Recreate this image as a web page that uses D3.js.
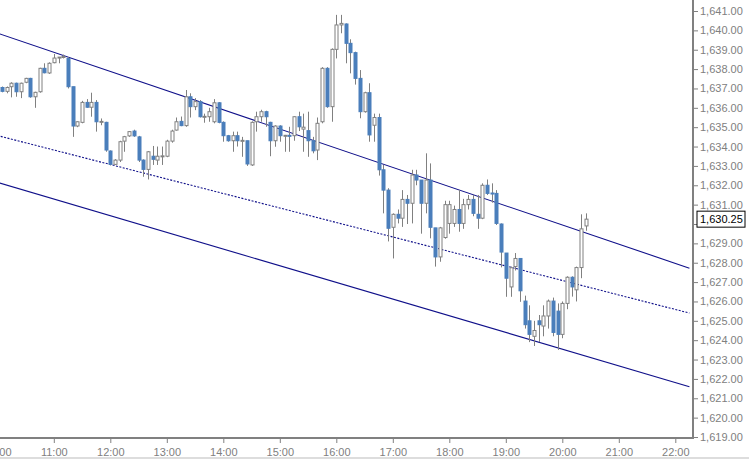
<!DOCTYPE html>
<html><head><meta charset="utf-8">
<script src="https://cdn.jsdelivr.net/npm/d3@7"></script>
<style>body{margin:0;background:#fff}svg{display:block}</style>
</head><body>
<svg id="c" width="749" height="459"></svg>
<script>
const startTime = "2013-01-01T10:05";
const opens = [1637.05,1636.85,1637.09,1637.27,1636.83,1637.32,1637.52,1636.57,1636.83,1638.04,1637.8,1638.33,1638.6,1638.65,1638.55,1637.09,1635.06,1635.25,1636.28,1636.03,1636.28,1635.28,1635.25,1633.77,1633.08,1633.3,1634.28,1634.55,1634.8,1634.5,1633.3,1632.82,1633.5,1633.3,1633.5,1633.5,1634.28,1634.85,1635.3,1635.08,1636.57,1636.06,1636.32,1635.54,1635.54,1635.28,1636.26,1635.25,1634.56,1634.3,1634.56,1634.3,1634.3,1633.05,1635.28,1635.54,1635.8,1635.25,1634.3,1635.06,1634.56,1634.58,1634.56,1635.54,1634.9,1634.82,1634.3,1633.82,1635.28,1638.04,1636.06,1639.02,1640.28,1640.33,1639.33,1638.85,1637.52,1635.8,1636.78,1635.1,1635.5,1632.8,1631.75,1629.83,1630.5,1630.3,1631.27,1631.07,1632.53,1632.27,1631.07,1632.27,1629.8,1628.3,1629.3,1630.03,1630.03,1630.75,1630.03,1631.0,1631.27,1630.5,1630.3,1632.0,1631.6,1631.58,1630.0,1628.5,1626.75,1627.8,1628.22,1626.02,1625.0,1624.2,1625.0,1624.73,1625.25,1626.02,1625.5,1624.3,1625.9,1627.25,1626.6,1627.75,1629.9];
const highs = [1637.1,1637.1,1637.32,1637.3,1637.3,1637.55,1637.55,1636.83,1638.07,1638.3,1638.35,1638.78,1638.62,1638.75,1638.62,1637.09,1635.3,1636.36,1636.45,1636.78,1636.4,1635.45,1635.28,1633.8,1633.35,1634.3,1634.55,1634.8,1634.87,1634.55,1633.34,1633.77,1634.03,1634.0,1634.0,1634.35,1634.87,1635.5,1635.55,1636.92,1636.75,1636.5,1636.4,1635.7,1636.0,1636.45,1636.3,1635.3,1634.6,1634.77,1634.77,1634.5,1634.3,1635.3,1635.8,1635.9,1635.85,1635.28,1635.1,1635.1,1634.6,1635.02,1635.56,1635.8,1635.7,1635.8,1634.5,1635.5,1638.1,1638.1,1639.07,1640.8,1640.8,1640.36,1639.54,1638.9,1637.95,1636.83,1637.27,1635.7,1635.7,1633.05,1631.85,1630.55,1630.75,1631.75,1631.5,1632.8,1632.8,1632.27,1633.65,1633.13,1629.8,1629.85,1631.2,1631.2,1630.95,1631.75,1631.3,1631.5,1631.5,1631.5,1632.1,1632.3,1632.1,1631.75,1630.03,1628.5,1627.8,1628.5,1628.22,1626.3,1625.8,1625.0,1625.3,1625.8,1626.1,1626.2,1625.9,1626.0,1627.3,1627.3,1627.8,1630.5,1630.55];
const lows = [1636.8,1636.75,1636.54,1636.57,1636.5,1637.27,1636.52,1636.0,1636.78,1637.78,1637.75,1638.3,1638.3,1638.55,1637.0,1634.5,1635.0,1635.2,1636.0,1635.54,1634.77,1635.1,1633.73,1633.03,1633.05,1633.2,1633.73,1634.5,1634.5,1633.2,1632.44,1632.3,1633.05,1633.05,1633.05,1633.45,1634.2,1634.82,1635.05,1635.02,1635.5,1635.88,1635.5,1635.23,1635.28,1635.2,1635.2,1634.25,1634.25,1633.73,1634.0,1633.47,1633.0,1633.0,1634.77,1635.28,1635.02,1633.5,1633.99,1634.25,1633.73,1633.73,1634.3,1634.8,1633.73,1633.47,1633.65,1633.3,1635.2,1636.0,1635.28,1638.55,1639.85,1638.3,1637.78,1637.2,1635.46,1635.75,1634.25,1634.25,1632.5,1630.55,1629.1,1628.22,1630.03,1629.85,1630.0,1630.03,1632.0,1629.5,1630.55,1629.26,1627.8,1628.05,1629.24,1629.5,1629.85,1629.6,1629.75,1630.75,1630.4,1629.75,1630.25,1631.5,1631.1,1629.95,1627.76,1626.24,1626.24,1627.6,1625.98,1624.6,1623.9,1623.7,1623.9,1624.2,1624.6,1624.2,1623.5,1624.1,1625.6,1626.25,1626.0,1627.2,1629.65];
const closes = [1636.85,1637.05,1637.27,1636.83,1637.27,1637.52,1636.57,1636.8,1638.04,1637.81,1638.3,1638.57,1638.62,1638.65,1637.09,1635.06,1635.28,1636.28,1636.03,1636.28,1635.28,1635.3,1633.82,1633.08,1633.3,1634.25,1634.51,1634.77,1634.55,1633.3,1632.82,1633.73,1633.34,1633.5,1633.52,1634.28,1634.8,1635.28,1635.08,1636.57,1636.06,1636.32,1635.54,1635.56,1635.8,1636.26,1635.25,1634.56,1634.3,1634.56,1634.3,1634.32,1633.1,1635.25,1635.54,1635.8,1635.54,1634.3,1635.06,1634.56,1634.58,1634.56,1635.54,1635.02,1635.0,1634.3,1633.78,1635.2,1638.04,1636.06,1639.02,1640.28,1640.36,1639.33,1638.85,1637.52,1635.8,1636.78,1634.6,1635.5,1632.8,1631.75,1629.78,1630.5,1630.3,1631.27,1631.07,1632.53,1632.27,1631.07,1632.27,1629.83,1628.3,1629.8,1631.0,1631.0,1630.75,1630.03,1631.0,1631.27,1630.55,1630.3,1632.0,1631.58,1631.58,1630.03,1628.55,1627.2,1627.74,1628.22,1626.55,1624.8,1624.3,1624.5,1624.8,1625.25,1626.02,1624.4,1624.3,1625.9,1627.25,1626.75,1627.75,1629.75,1630.25];
const channelTimes = ["2013-01-01T10:00","2013-01-01T22:15"];
const channelUpper = [1639.86,1627.72];
const channelMid = [1634.57,1625.4];
const channelLower = [1632.15,1621.6];
const yTicks = d3.range(1619,1642);
const xTickLabels = ["10:00","11:00","12:00","13:00","14:00","15:00","16:00","17:00","18:00","19:00","20:00","21:00","22:00"];
const lastPrice = 1630.25;

const svg = d3.select("#c");
const W=692, H=437;
const t0 = new Date("2013-01-01T10:00"), t1=new Date("2013-01-01T22:00");
const x = d3.scaleTime().domain([t0,t1]).range([-2.7, 675.3]);
const y = d3.scaleLinear().domain([1619,1641]).range([437,11]);
const parse = s=>new Date(s);
const st = parse(startTime);
const bars = opens.map((o,i)=>({t:d3.timeMinute.offset(st,5*i),o,h:highs[i],l:lows[i],c:closes[i]}));

svg.append("defs").append("clipPath").attr("id","pc").append("rect").attr("x",0).attr("y",0).attr("width",W).attr("height",H);
const plot = svg.append("g").attr("clip-path","url(#pc)");

const line = d3.line().x(d=>x(d[0])).y(d=>y(d[1]));
[[channelUpper,null],[channelMid,"2,1.5"],[channelLower,null]].forEach(([vals,dash])=>{
  plot.append("path").datum(channelTimes.map((t,i)=>[parse(t),vals[i]]))
    .attr("d",line).attr("fill","none").attr("stroke","#10108a").attr("stroke-width",1.1)
    .attr("stroke-dasharray",dash);
});

const g = plot.selectAll("g.b").data(bars).join("g");
g.append("line").attr("x1",d=>Math.round(x(d.t))+0.5).attr("x2",d=>Math.round(x(d.t))+0.5)
  .attr("y1",d=>y(d.h)).attr("y2",d=>y(d.l)).attr("stroke","#808080").attr("stroke-width",1);
g.append("rect").attr("x",d=>Math.round(x(d.t))-1).attr("width",3)
  .attr("y",d=>y(Math.max(d.o,d.c))).attr("height",d=>Math.max(1,Math.abs(y(d.o)-y(d.c))))
  .attr("fill",d=>d.c<d.o?"#4a7ebb":"#fff").attr("stroke",d=>d.c<d.o?"#4a7ebb":"#808080").attr("stroke-width",1);

const axC="#808080";
svg.append("line").attr("x1",693).attr("x2",693).attr("y1",0).attr("y2",439).attr("stroke",axC).attr("stroke-width",2);
svg.append("line").attr("x1",0).attr("x2",694).attr("y1",438).attr("y2",438).attr("stroke",axC).attr("stroke-width",2);
const ya = svg.append("g").attr("transform","translate(694,0)")
  .call(d3.axisRight(y).tickValues(yTicks).tickSize(4).tickFormat(d=>d===1630?"":d3.format(",.2f")(d)));
ya.select(".domain").remove();
ya.selectAll("line").attr("stroke",axC);
ya.selectAll("text").attr("fill","#808080").attr("font-family","Liberation Sans, Arial").attr("font-size",11).attr("x",6);
const xa = svg.append("g").attr("transform","translate(0,438)")
  .call(d3.axisBottom(x).tickValues(xTickLabels.map(s=>new Date("2013-01-01T"+s))).tickSize(5).tickFormat(d3.timeFormat("%H:%M")));
xa.select(".domain").remove();
xa.selectAll("line").attr("stroke",axC);
xa.selectAll("text").attr("fill","#808080").attr("font-family","Liberation Sans, Arial").attr("font-size",11).attr("dy","0.9em");
svg.append("line").attr("x1",0).attr("x2",749).attr("y1",458).attr("y2",458).attr("stroke","#bbb");

const lp = svg.append("g").attr("transform",`translate(697,${y(lastPrice)})`);
lp.append("rect").attr("x",0).attr("y",-8).attr("width",48).attr("height",16).attr("fill","#fff").attr("stroke","#000");
lp.append("text").attr("x",3).attr("y",4).text(d3.format(",.2f")(lastPrice)).attr("font-family","Liberation Sans, Arial").attr("font-size",11).attr("fill","#000");
</script>
</body></html>
